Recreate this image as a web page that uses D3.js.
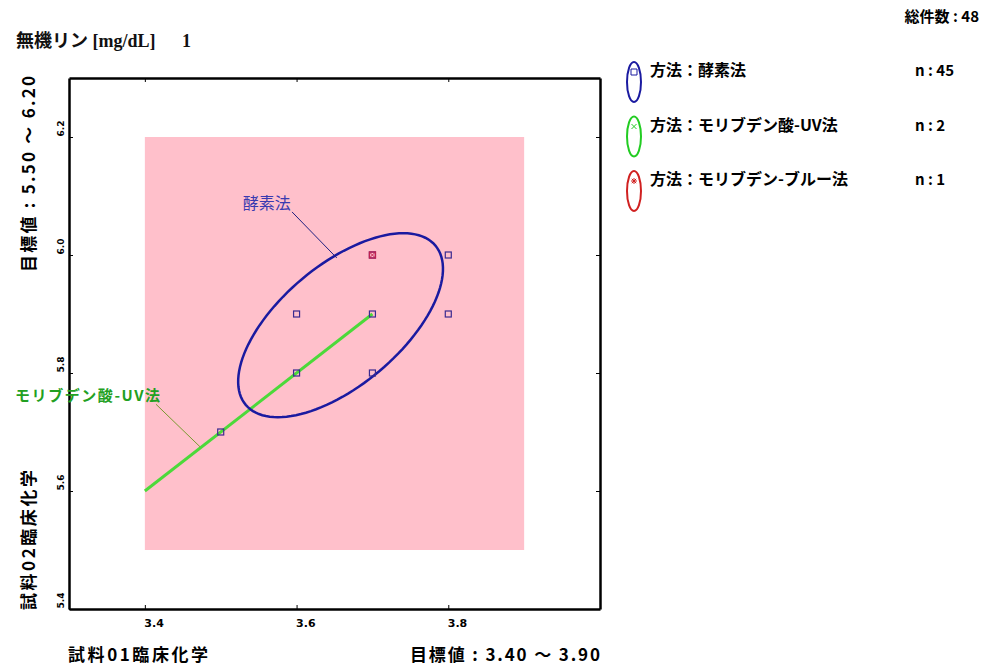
<!DOCTYPE html>
<html>
<head>
<meta charset="utf-8">
<script src="https://cdn.jsdelivr.net/npm/d3@7"></script>
<style>
  body { margin: 0; background: #fff; }
  svg { display: block; }
  .jp { font-family: "Noto Sans CJK JP", sans-serif; font-weight: bold; }
</style>
</head>
<body>
<div id="chart"></div>
<script>
// axis ranges and ticks
const xDomain = [3.3, 4.0];
const yDomain = [5.4, 6.3];
const xTicks = [3.4, 3.6, 3.8];
const yTicks = [5.4, 5.6, 5.8, 6.0, 6.2];
const xTarget = [3.40, 3.90];
const yTarget = [5.50, 6.20];

// 酵素法 points
const enzymeX = [3.5, 3.6, 3.6, 3.7, 3.7, 3.7, 3.8, 3.8];
const enzymeY = [5.7, 5.8, 5.9, 5.8, 5.9, 6.0, 5.9, 6.0];
// 酵素法 ellipse: center, major and minor half-axes (data units)
const enzymeCenter = [3.658, 5.881];
const enzymeMajor = [0.125, 0.135];
const enzymeMinor = [0.051, -0.078];

// モリブデン酸-UV法 line
const uvX = [3.4, 3.7];
const uvY = [5.6, 5.9];

// モリブデン-ブルー法 point
const blueX = [3.7];
const blueY = [6.0];

const methods = ['方法：酵素法', '方法：モリブデン酸-UV法', '方法：モリブデン-ブルー法'];
const methodN = [45, 2, 1];
const methodColors = ['#1a1aa0', '#22cc22', '#d02020'];
const total = 48;

const width = 981, height = 666;
const svg = d3.select('#chart').append('svg')
  .attr('width', width)
  .attr('height', height);

const x = d3.scaleLinear().domain(xDomain).range([69, 600]);
const y = d3.scaleLinear().domain(yDomain).range([609, 78]);

// title
const title = svg.append('text')
  .attr('y', 47)
  .attr('font-family', '"Liberation Serif", "Noto Sans CJK JP", serif')
  .attr('font-size', 18)
  .attr('font-weight', 'bold')
  .attr('fill', '#111');
title.append('tspan').attr('x', 16).text('無機リン [mg/dL]');
title.append('tspan').attr('x', 182).text('1');

// target area
svg.append('rect')
  .attr('x', x(xTarget[0]))
  .attr('y', y(yTarget[1]))
  .attr('width', x(xTarget[1]) - x(xTarget[0]))
  .attr('height', y(yTarget[0]) - y(yTarget[1]))
  .attr('fill', '#ffc0cb');

// axes, ticks pointing inward
const gx = svg.append('g')
  .attr('transform', `translate(0,${y.range()[0]})`)
  .call(d3.axisBottom(x).tickValues(xTicks).tickSize(-4).tickSizeOuter(0).tickPadding(10).tickFormat(d3.format('.1f')));
gx.selectAll('text')
  .attr('text-anchor', 'start')
  .attr('dx', -1)
  .attr('font-family', '"DejaVu Sans", sans-serif')
  .attr('font-weight', 'bold')
  .attr('font-size', 11)
  .attr('fill', '#000');

const gy = svg.append('g')
  .attr('transform', `translate(${x.range()[0]},0)`)
  .call(d3.axisLeft(y).tickValues(yTicks).tickSize(-4).tickSizeOuter(0).tickFormat(d3.format('.1f')));
gy.selectAll('text')
  .attr('transform', 'rotate(-90)')
  .attr('x', 1).attr('y', -5).attr('dy', 0)
  .attr('text-anchor', 'start')
  .attr('font-family', '"DejaVu Sans", sans-serif')
  .attr('font-weight', 'bold')
  .attr('font-size', 9)
  .attr('fill', '#000');

svg.append('g')
  .attr('transform', `translate(0,${y.range()[1]})`)
  .call(d3.axisTop(x).tickValues(xTicks).tickSize(-4).tickSizeOuter(0).tickFormat(''));
svg.append('g')
  .attr('transform', `translate(${x.range()[1]},0)`)
  .call(d3.axisRight(y).tickValues(yTicks).tickSize(-4).tickSizeOuter(0).tickFormat(''));

svg.selectAll('.domain').attr('stroke', '#000').attr('stroke-width', 2.5);
svg.selectAll('.tick line').attr('stroke', '#000').attr('stroke-width', 1);

// axis titles
svg.append('text').attr('class', 'jp')
  .attr('x', 68).attr('y', 661)
  .attr('font-size', 17)
  .attr('textLength', 140).attr('lengthAdjust', 'spacing')
  .text('試料01臨床化学');
svg.append('text').attr('class', 'jp')
  .attr('x', 410).attr('y', 661)
  .attr('font-size', 17)
  .attr('textLength', 190).attr('lengthAdjust', 'spacing')
  .text('目標値 : 3.40 ～ 3.90');
svg.append('text').attr('class', 'jp')
  .attr('transform', 'translate(35,610) rotate(-90)')
  .attr('font-size', 17)
  .attr('textLength', 140).attr('lengthAdjust', 'spacing')
  .text('試料02臨床化学');
svg.append('text').attr('class', 'jp')
  .attr('transform', 'translate(35,272) rotate(-90)')
  .attr('font-size', 17)
  .attr('textLength', 196).attr('lengthAdjust', 'spacing')
  .text('目標値 : 5.50 ～ 6.20');

// UV line
svg.append('path')
  .datum(d3.zip(uvX, uvY))
  .attr('fill', 'none')
  .attr('stroke', '#4cd93a')
  .attr('stroke-width', 3)
  .attr('d', d3.line().x(d => x(d[0])).y(d => y(d[1])));

// enzyme ellipse
const angles = d3.range(0, 361, 3).map(a => a * Math.PI / 180);
const ellipsePts = angles.map(t => [
  enzymeCenter[0] + Math.cos(t) * enzymeMajor[0] + Math.sin(t) * enzymeMinor[0],
  enzymeCenter[1] + Math.cos(t) * enzymeMajor[1] + Math.sin(t) * enzymeMinor[1]
]);
svg.append('path')
  .datum(ellipsePts)
  .attr('fill', 'none')
  .attr('stroke', methodColors[0])
  .attr('stroke-width', 2.5)
  .attr('d', d3.line().x(d => x(d[0])).y(d => y(d[1])).curve(d3.curveLinearClosed));

// points
svg.append('g')
  .selectAll('rect')
  .data(d3.zip(enzymeX, enzymeY))
  .join('rect')
    .attr('x', d => x(d[0]) - 3)
    .attr('y', d => y(d[1]) - 3)
    .attr('width', 6).attr('height', 6)
    .attr('fill', 'none')
    .attr('stroke', '#3a2a90')
    .attr('stroke-width', 1.2);

const blue = svg.append('g')
  .selectAll('g')
  .data(d3.zip(blueX, blueY))
  .join('g')
    .attr('transform', d => `translate(${x(d[0])},${y(d[1])})`);
blue.append('rect')
  .attr('x', -3).attr('y', -3).attr('width', 6).attr('height', 6)
  .attr('fill', 'none').attr('stroke', '#c02050').attr('stroke-width', 1.4);
blue.append('path')
  .attr('d', 'M-3,-3L3,3M3,-3L-3,3')
  .attr('stroke', '#c02050').attr('stroke-width', 1);

// annotations
svg.append('line')
  .attr('x1', x(3.594)).attr('y1', y(6.073))
  .attr('x2', x(3.653)).attr('y2', y(5.995))
  .attr('stroke', '#202080').attr('stroke-width', 1);
svg.append('text')
  .attr('x', x(3.529)).attr('y', y(6.078))
  .attr('font-family', '"Noto Sans CJK JP", sans-serif')
  .attr('font-size', 16)
  .attr('fill', '#3a3ab0')
  .text('酵素法');

svg.append('line')
  .attr('x1', x(3.4147)).attr('y1', y(5.747))
  .attr('x2', x(3.4727)).attr('y2', y(5.675))
  .attr('stroke', '#7a9a30').attr('stroke-width', 1);
svg.append('text')
  .attr('x', 15).attr('y', y(5.752))
  .attr('font-family', '"Noto Sans CJK JP", sans-serif')
  .attr('font-weight', 'bold')
  .attr('font-size', 15)
  .attr('textLength', 145).attr('lengthAdjust', 'spacing')
  .attr('fill', '#22a022')
  .text('モリブデン酸-UV法');

// legend
svg.append('text').attr('class', 'jp')
  .attr('x', 979).attr('y', 22)
  .attr('text-anchor', 'end')
  .attr('font-size', 15)
  .text(`総件数 : ${total}`);

const legend = svg.append('g')
  .selectAll('g')
  .data(methods)
  .join('g')
    .attr('transform', (d, i) => `translate(634,${82 + i * 54.5})`);
legend.append('ellipse')
  .attr('rx', 7).attr('ry', 20)
  .attr('fill', 'none')
  .attr('stroke', (d, i) => methodColors[i])
  .attr('stroke-width', 2);
legend.append('path')
  .attr('d', (d, i) => i === 0 ? 'M-3,-13h6v6h-6z'
    : i === 1 ? 'M-2.5,-12.5l5,5M2.5,-12.5l-5,5'
    : 'M-3,-10h6M0,-13v6M-2.2,-12.2l4.4,4.4M2.2,-12.2l-4.4,4.4')
  .attr('fill', 'none')
  .attr('stroke', (d, i) => methodColors[i])
  .attr('stroke-width', 1);
legend.append('text').attr('class', 'jp')
  .attr('x', 16).attr('y', -6)
  .attr('font-size', 16)
  .text(d => d);
legend.append('text').attr('class', 'jp')
  .attr('x', 281).attr('y', -6)
  .attr('font-size', 15)
  .text((d, i) => `n : ${methodN[i]}`);
</script>
</body>
</html>
